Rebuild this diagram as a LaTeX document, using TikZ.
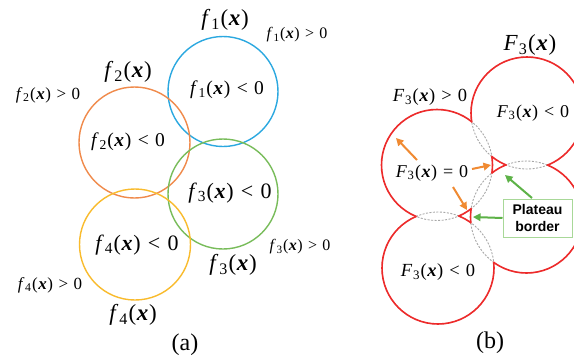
\documentclass[tikz,border=0pt]{standalone}
\usepackage{fontspec}
\setmainfont{Liberation Serif}
\newfontfamily\sansb{Liberation Sans}
\usetikzlibrary{arrows.meta}
\definecolor{cblue}{HTML}{2BA8E0}
\definecolor{corange}{HTML}{F08A4B}
\definecolor{cgreen}{HTML}{78BC5A}
\definecolor{cyellow}{HTML}{F9BB2D}
\definecolor{cred}{HTML}{EE2A2A}
\definecolor{carrow}{HTML}{F08A32}
\definecolor{carrowg}{HTML}{5DB247}
\definecolor{cbox}{HTML}{A8D898}
\definecolor{cgray}{HTML}{A8A8A8}
\newcommand{\fn}[2]{\textit{#1}\kern0.04em\textsubscript{#2}\kern0.03em(\kern0.03em\textbf{\textit{x}}\kern0.03em)}
\newcommand{\rl}[1]{\hspace{0.33em}#1\hspace{0.33em}}
\begin{document}
\begin{tikzpicture}[x=1pt,y=-1pt,
  ring/.style={line width=1.4pt},
  lbl/.style={inner sep=0pt,font=\fontsize{#1}{#1}\selectfont},
  lbl/.default=16,
  oarrow/.style={carrow,line width=2pt,-{Triangle[length=7.5pt,width=7.5pt]}},
  garrow/.style={carrowg,line width=2pt,-{Triangle[length=7.5pt,width=7.5pt]}},
  lens/.style={cgray,line width=0.9pt,dash pattern=on 2pt off 1.5pt},
  foam/.style={cred,line width=1.6pt}]
\clip (0,0) rectangle (574,360);
\fill[white] (0,0) rectangle (574,360);
% ---------- (a) ----------
\draw[ring,cblue] (223,91.5) circle[radius=55pt];
\draw[ring,corange] (134.5,142.5) circle[radius=55.5pt];
\draw[ring,cgreen] (223,194) circle[radius=55pt];
\draw[ring,cyellow] (135,244.5) circle[radius=55.5pt];
\node[lbl=23] (h1) at (225,20) {\fn{f}{1}};
\node[lbl=16] (p1) at (297,35) {\fn{f}{1}\rl{>}0};
\node[lbl=19.5] (n1) at (227,90) {\fn{f}{1}\rl{<}0};
\node[lbl=23] (h2) at (128,72) {\fn{f}{2}};
\node[lbl=17] (p2) at (48,95) {\fn{f}{2}\rl{>}0};
\node[lbl=19.5] (n2) at (128,142) {\fn{f}{2}\rl{<}0};
\node[lbl=22] (n3) at (230,193) {\fn{f}{3}\rl{<}0};
\node[lbl=16] (p3) at (300,247) {\fn{f}{3}\rl{>}0};
\node[lbl=23] (h3) at (233,265) {\fn{f}{3}};
\node[lbl=22] (n4) at (137,245) {\fn{f}{4}\rl{<}0};
\node[lbl=17] (p4) at (50,285) {\fn{f}{4}\rl{>}0};
\node[lbl=23] (h4) at (133,315) {\fn{f}{4}};
\node[lbl=24] (ca) at (185,345) {(a)};
% ---------- (b) ----------
\coordinate (A) at (527,113);
\coordinate (B) at (437,165);
\coordinate (C) at (526.5,217);
\coordinate (D) at (438,268);
\def\rA{56pt}\def\rB{55.5pt}\def\rC{56pt}\def\rD{56pt}
\draw[lens] (A) circle[radius=\rA];
\draw[lens] (B) circle[radius=\rB];
\draw[lens] (C) circle[radius=\rC];
\draw[lens] (D) circle[radius=\rD];
\begin{scope}[even odd rule]
  \clip (0,0) rectangle (574,360) (B) circle[radius=\rB];
  \clip (0,0) rectangle (574,360) (C) circle[radius=\rC];
  \draw[foam] (A) circle[radius=\rA];
\end{scope}
\begin{scope}[even odd rule]
  \clip (0,0) rectangle (574,360) (A) circle[radius=\rA];
  \clip (0,0) rectangle (574,360) (C) circle[radius=\rC];
  \clip (0,0) rectangle (574,360) (D) circle[radius=\rD];
  \draw[foam] (B) circle[radius=\rB];
\end{scope}
\begin{scope}[even odd rule]
  \clip (0,0) rectangle (574,360) (A) circle[radius=\rA];
  \clip (0,0) rectangle (574,360) (B) circle[radius=\rB];
  \clip (0,0) rectangle (574,360) (D) circle[radius=\rD];
  \draw[foam] (C) circle[radius=\rC];
\end{scope}
\begin{scope}[even odd rule]
  \clip (0,0) rectangle (574,360) (B) circle[radius=\rB];
  \clip (0,0) rectangle (574,360) (C) circle[radius=\rC];
  \draw[foam] (D) circle[radius=\rD];
\end{scope}
\node[lbl=23] (H) at (530,45) {\fn{F}{3}};
\node[lbl=18.5] (P) at (430,97) {\fn{F}{3}\rl{>}0};
\node[lbl=18] (NA) at (533,113) {\fn{F}{3}\rl{<}0};
\node[lbl=18] (Z) at (432,173) {\fn{F}{3}\rl{=}0};
\node[lbl=18.5] (ND) at (438,272) {\fn{F}{3}\rl{<}0};
\node[lbl=24] (cb) at (490,343) {(b)};
\node[draw=cbox,line width=1pt,fill=white,minimum width=69pt,minimum height=38pt,inner sep=0pt,
      align=center,font=\sansb\bfseries\fontsize{14}{17}\selectfont] (PB) at (537.5,218) {Plateau\\border};
\coordinate (o1s) at (417,160); \coordinate (o1e) at (396,138);
\coordinate (o2s) at (472,169); \coordinate (o2e) at (491,165);
\coordinate (o3s) at (453,187); \coordinate (o3e) at (467,210);
\coordinate (g1s) at (532,198); \coordinate (g1e) at (505,175);
\coordinate (g2e) at (473,217);
\draw[oarrow] (o1s) -- (o1e);
\draw[oarrow] (o2s) -- (o2e);
\draw[oarrow] (o3s) -- (o3e);
\draw[garrow] (g1s) -- (g1e);
\draw[garrow] (PB.west) -- (g2e);
\end{tikzpicture}
\end{document}
